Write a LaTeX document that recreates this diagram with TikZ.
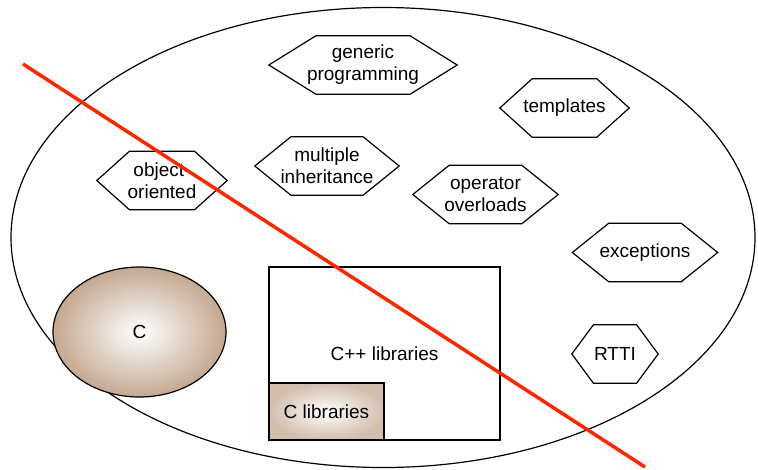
\documentclass[tikz,border=0pt]{standalone}
\usepackage{fontspec}
\setmainfont{Liberation Sans}
\usetikzlibrary{shapes,positioning,calc}
\definecolor{cbrown}{RGB}{196,168,145}
\definecolor{cutred}{RGB}{255,38,0}
\tikzset{
	lang/.style={
		ellipse, draw=black, line width=1.2pt, inner sep=0pt
	},
	%
	feature/.style={
		rectangle, inner sep=0pt, minimum height=58pt, align=center
	},
	%
	hexline/.style={
		draw=black, line width=1.2pt, line join=miter
	},
	%
	libbox/.style={
		rectangle, draw=black, line width=1.2pt, inner sep=0pt
	},
	%
	cutline/.style={
		draw=cutred, line width=3.5pt
	}
}

\begin{document}
\begin{tikzpicture}[x=1pt, y=-1pt, every node/.style={font=\fontsize{19}{22}\selectfont}]
\useasboundingbox (0,0) rectangle (758,469);
\node(cpp)[lang, minimum width=744pt, minimum height=460pt] at (383,237.5) {};
\node(c)[lang, minimum width=173pt, minimum height=130pt, inner color=white, outer color=cbrown] at (139.5,332) {C};
\node(generic)[feature, minimum width=188pt] at (363,65) {generic\\programming};
\node(templ)[feature, minimum width=129pt] at (564.5,108) {templates};
\node(objor)[feature, minimum width=130pt] at (162,180.5) {object-\\oriented};
\node(multi)[feature, minimum width=144pt] at (327,166) {multiple\\inheritance};
\node(opover)[feature, minimum width=145pt] at (485.5,194.5) {operator\\overloads};
\node(except)[feature, minimum width=145pt] at (645,252.5) {exceptions};
\node(rtti)[feature, minimum width=86pt] at (615,354) {RTTI};
\foreach \n in {generic,templ,objor,multi,opover,except,rtti}
	\draw[hexline] (\n.west) -- ($(\n.north west)!.25!(\n.north east)$) -- ($(\n.north west)!.75!(\n.north east)$) -- (\n.east) -- ($(\n.south west)!.75!(\n.south east)$) -- ($(\n.south west)!.25!(\n.south east)$) -- cycle;
\node(cpplib)[libbox, minimum width=231pt, minimum height=173pt] at (384.5,353.5) {C++ libraries};
\node(clib)[libbox, minimum width=115pt, minimum height=57pt, inner color=white, outer color=cbrown!75, anchor=south west] at (cpplib.south west) {C libraries};
\coordinate (cutA) at (23,64);
\coordinate (cutB) at (645,467);
\draw[cutline] (cutA) -- (cutB);
\end{tikzpicture}
\end{document}
